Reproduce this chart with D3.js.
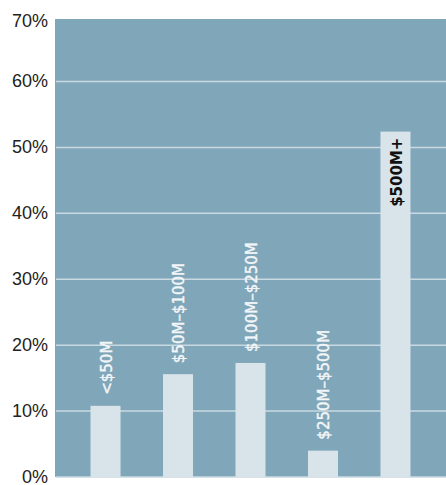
<!DOCTYPE html>
<html>
<head>
<meta charset="utf-8">
<script src="https://cdn.jsdelivr.net/npm/d3@7"></script>
<style>
  html, body { margin: 0; padding: 0; background: #fff; }
</style>
</head>
<body>
<div id="chart"></div>
<script>
// 数据
const categories = ['<$50M', '$50M–$100M', '$100M–$250M', '$250M–$500M', '$500M+'];
const shares = [0.108, 0.156, 0.173, 0.040, 0.524];
const yTicks = [0, 0.1, 0.2, 0.3, 0.4, 0.5, 0.6, 0.7];

const width = 446, height = 485;
const plotLeft = 55, plotTop = 19, plotRight = 446, plotBottom = 477;

const svg = d3.select('#chart')
    .append('svg')
    .attr('width', width)
    .attr('height', height);

const x = d3.scaleBand()
    .domain(categories)
    .range([plotLeft, plotRight])
    .paddingInner(0.586)
    .paddingOuter(0.49);

const y = d3.scaleLinear()
    .domain([0, 0.7])
    .range([plotBottom, 15.6]);

// 背景
svg.append('rect')
    .attr('x', plotLeft)
    .attr('y', plotTop)
    .attr('width', plotRight - plotLeft)
    .attr('height', plotBottom - plotTop)
    .attr('fill', '#80a6b9');

// 网格线
svg.append('g')
    .selectAll('line')
    .data(yTicks.filter(d => d > 0 && d < 0.7))
    .join('line')
    .attr('x1', plotLeft + 1)
    .attr('x2', plotRight)
    .attr('y1', d => y(d))
    .attr('y2', d => y(d))
    .attr('stroke', '#c9d9e1')
    .attr('stroke-width', 1.5);

// 底线
svg.append('line')
    .attr('x1', plotLeft + 1)
    .attr('x2', plotRight)
    .attr('y1', y(0))
    .attr('y2', y(0))
    .attr('stroke', '#c9d9e1')
    .attr('stroke-width', 1.5);

// y 轴标签
svg.append('g')
    .selectAll('text')
    .data(yTicks)
    .join('text')
    .attr('x', 48)
    .attr('y', d => d === 0.7 ? plotTop + 2 : y(d))
    .attr('dy', '0.33em')
    .attr('text-anchor', 'end')
    .style('font-family', 'Liberation Sans, Arial, sans-serif')
    .style('font-size', '18px')
    .style('fill', '#222')
    .text(d => Math.round(d * 100) + '%');

// 柱子
svg.append('g')
    .selectAll('rect')
    .data(categories)
    .join('rect')
    .attr('x', d => x(d))
    .attr('width', x.bandwidth())
    .attr('y', (d, i) => y(shares[i]))
    .attr('height', (d, i) => y(0) - y(shares[i]))
    .attr('fill', '#d9e4ea');

// 柱子标签（大值放在柱内）
svg.append('g')
    .selectAll('text')
    .data(categories)
    .join('text')
    .attr('transform', (d, i) => {
        const cx = x(d) + x.bandwidth() / 2 + 1;
        const inside = shares[i] > 0.4;
        const ty = inside ? y(shares[i]) + 6 : y(shares[i]) - 11;
        return `translate(${cx},${ty}) rotate(-90)`;
    })
    .attr('dy', '0.36em')
    .attr('text-anchor', (d, i) => shares[i] > 0.4 ? 'end' : 'start')
    .style('font-family', 'DejaVu Sans, sans-serif')
    .style('font-size', '15px')
    .style('font-weight', (d, i) => shares[i] > 0.4 ? 'bold' : 'normal')
    .style('fill', (d, i) => shares[i] > 0.4 ? '#111' : '#f3f6f8')
    .style('stroke', (d, i) => shares[i] > 0.4 ? 'none' : '#f3f6f8')
    .style('stroke-width', 0.4)
    .text(d => d);
</script>
</body>
</html>
